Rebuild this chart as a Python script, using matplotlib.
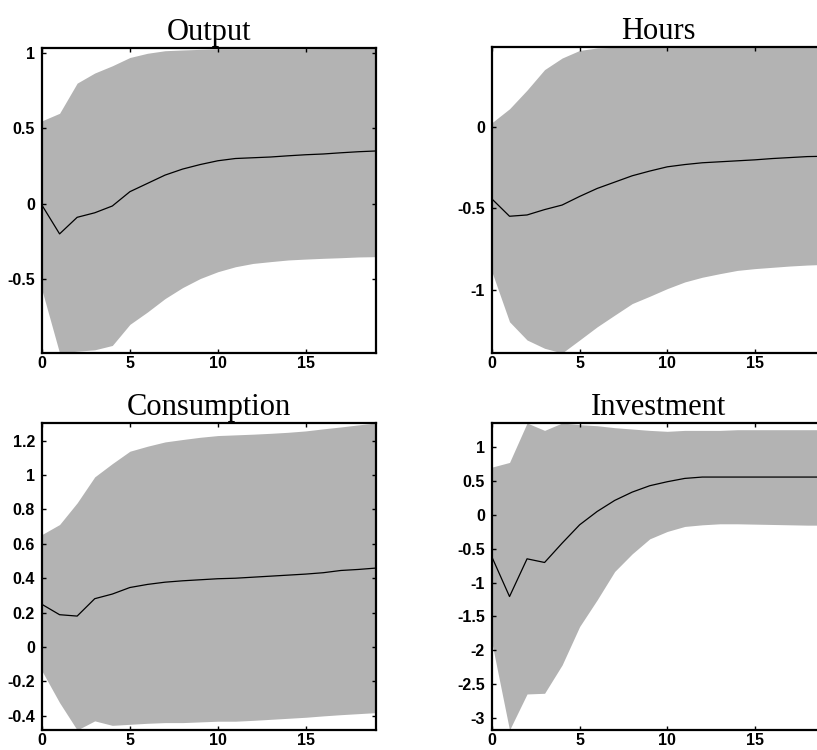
#!/usr/bin/env python3

import numpy as np
import matplotlib
matplotlib.use("Agg")
import matplotlib.pyplot as plt

# horizon
periods = np.arange(20)

# Output
output_mean = [-0.01, -0.20, -0.09, -0.06, -0.015, 0.08, 0.135, 0.19, 0.23, 0.26,
               0.285, 0.30, 0.305, 0.31, 0.318, 0.325, 0.33, 0.338, 0.345, 0.35]
output_upper = [0.55, 0.60, 0.80, 0.867, 0.915, 0.97, 0.998, 1.015, 1.02, 1.024,
                1.027, 1.027, 1.027, 1.027, 1.028, 1.028, 1.029, 1.03, 1.032, 1.033]
output_lower = [-0.573, -0.99, -0.978, -0.969, -0.94, -0.80, -0.718, -0.629, -0.556, -0.496,
                -0.451, -0.418, -0.396, -0.384, -0.373, -0.367, -0.362, -0.358, -0.353, -0.351]

# Hours
hours_mean = [-0.443, -0.549, -0.541, -0.508, -0.480, -0.427, -0.378, -0.339, -0.30, -0.271,
              -0.245, -0.231, -0.220, -0.214, -0.208, -0.202, -0.194, -0.188, -0.182, -0.180]
hours_upper = [0.027, 0.112, 0.227, 0.353, 0.424, 0.471, 0.486, 0.49, 0.492, 0.49,
               0.488, 0.489, 0.49, 0.491, 0.49, 0.489, 0.49, 0.491, 0.492, 0.492]
hours_lower = [-0.892, -1.198, -1.31, -1.361, -1.39, -1.31, -1.229, -1.157, -1.086, -1.041,
               -0.994, -0.953, -0.924, -0.902, -0.882, -0.871, -0.863, -0.855, -0.849, -0.845]

# Consumption
cons_mean = [0.248, 0.188, 0.18, 0.281, 0.308, 0.346, 0.364, 0.377, 0.385, 0.391,
             0.397, 0.40, 0.406, 0.412, 0.418, 0.424, 0.432, 0.445, 0.451, 0.459]
cons_upper = [0.654, 0.712, 0.838, 0.989, 1.066, 1.138, 1.167, 1.192, 1.206, 1.219,
              1.229, 1.233, 1.237, 1.242, 1.248, 1.256, 1.268, 1.279, 1.291, 1.302]
cons_lower = [-0.139, -0.323, -0.482, -0.429, -0.455, -0.449, -0.443, -0.439, -0.439, -0.435,
              -0.431, -0.431, -0.426, -0.420, -0.414, -0.408, -0.40, -0.393, -0.387, -0.381]

# Investment
inv_mean = [-0.626, -1.207, -0.65, -0.704, -0.419, -0.148, 0.049, 0.212, 0.335, 0.429,
            0.488, 0.537, 0.557, 0.557, 0.557, 0.557, 0.557, 0.557, 0.557, 0.557]
inv_upper = [0.704, 0.773, 1.355, 1.246, 1.355, 1.33, 1.315, 1.286, 1.266, 1.246,
             1.232, 1.246, 1.246, 1.246, 1.256, 1.256, 1.256, 1.256, 1.256, 1.256]
inv_lower = [-1.897, -3.177, -2.645, -2.635, -2.217, -1.65, -1.256, -0.837, -0.576, -0.355,
             -0.246, -0.172, -0.148, -0.133, -0.133, -0.138, -0.143, -0.148, -0.153, -0.153]

titles = ["Output", "Hours", "Consumption", "Investment"]
yticks = [[-0.5, 0, 0.5, 1],
          [-1, -0.5, 0],
          [-0.4, -0.2, 0, 0.2, 0.4, 0.6, 0.8, 1, 1.2],
          [-3, -2.5, -2, -1.5, -1, -0.5, 0, 0.5, 1]]
xticks = [0, 5, 10, 15]

W, H = 817.0, 750.0
# axes boxes in pixels: left, top, right, bottom
boxes = [(42, 48, 376, 353),
         (492, 47, 825, 353),
         (42, 423, 376, 730),
         (492, 423, 825, 730)]

plt.rcParams['font.family'] = 'Liberation Sans'

fig = plt.figure(figsize=(W / 100, H / 100), dpi=100)

series = [(output_mean, output_upper, output_lower),
          (hours_mean, hours_upper, hours_lower),
          (cons_mean, cons_upper, cons_lower),
          (inv_mean, inv_upper, inv_lower)]

for i in range(4):
	l, t, r, b = boxes[i]
	ax = fig.add_axes([l / W, 1 - b / H, (r - l) / W, (b - t) / H])
	mean, upper, lower = series[i]
	ax.fill_between(periods, lower, upper, color='#b3b3b3', linewidth=0)
	ax.plot(periods, mean, color='black', linewidth=0.9)
	# tight axis like matlab
	ax.set_xlim(0, 19)
	ax.set_ylim(min(lower), max(upper))
	ax.set_xticks(xticks)
	ax.set_yticks(yticks[i])
	ax.set_yticklabels([('%g' % v) for v in yticks[i]])
	ax.tick_params(direction='in', length=3, width=1, top=True, right=True,
	               labelsize=11.5)
	ax.tick_params(axis='x', pad=2.5)
	ax.tick_params(axis='y', pad=5)
	for lab in ax.get_xticklabels() + ax.get_yticklabels():
		lab.set_fontweight('bold')
	for sp in ax.spines.values():
		sp.set_linewidth(1.6)
	ax.set_title(titles[i], fontsize=22, family='Liberation Serif', pad=6)

fig.savefig("out.png", dpi=100)
plt.close()
